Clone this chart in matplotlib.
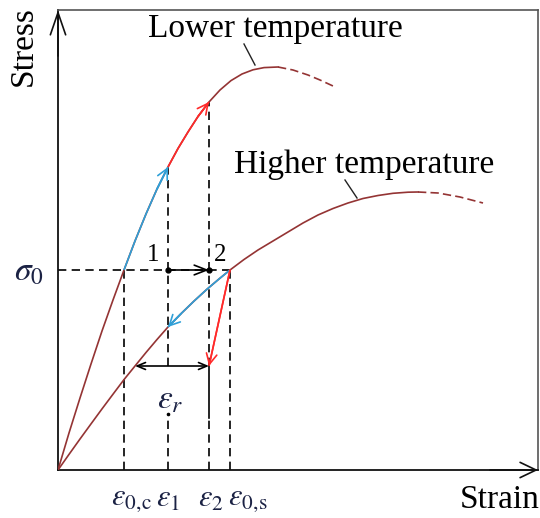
import matplotlib
matplotlib.use("Agg")
import matplotlib.pyplot as plt

plt.rcParams["font.family"] = ["Liberation Serif", "DejaVu Serif"]
plt.rcParams["mathtext.fontset"] = "stix"

# Stress-strain curve at the lower temperature (solid part, then dashed tail)
lower_x = [0.0, 0.11, 0.22, 0.33, 0.44, 0.55, 0.66, 0.77, 0.88, 0.99, 1.10,
           1.20, 1.30, 1.40, 1.51, 1.62, 1.73, 1.84, 1.95, 2.06, 2.20]
lower_y = [0.0, 0.37, 0.72, 1.06, 1.39, 1.70, 2.00, 2.29, 2.56, 2.81, 3.03,
           3.215, 3.38, 3.535, 3.68, 3.80, 3.894, 3.96, 4.002, 4.024, 4.03]
lower_tail_x = [2.20, 2.35, 2.50, 2.62, 2.75]
lower_tail_y = [4.03, 4.00, 3.95, 3.90, 3.84]

# Stress-strain curve at the higher temperature
higher_x = [0.0, 0.11, 0.22, 0.33, 0.44, 0.55, 0.66, 0.77, 0.88, 0.99, 1.10,
            1.23, 1.36, 1.49, 1.61, 1.72, 1.86, 2.00, 2.15, 2.30, 2.45, 2.60,
            2.75, 2.90, 3.05, 3.20, 3.35, 3.50, 3.60]
higher_y = [0.0, 0.156, 0.31, 0.461, 0.611, 0.758, 0.904, 1.04, 1.175, 1.305,
            1.43, 1.563, 1.689, 1.808, 1.91, 2.00, 2.105, 2.20, 2.29, 2.38,
            2.47, 2.55, 2.615, 2.67, 2.715, 2.745, 2.767, 2.778, 2.78]
higher_tail_x = [3.60, 3.80, 4.02, 4.25]
higher_tail_y = [2.78, 2.77, 2.73, 2.67]

# Characteristic strains and the reference stress
sigma_0 = 2.00
eps_0c, eps_1, eps_2, eps_0s = 0.66, 1.10, 1.51, 1.72
eps_r_level = 1.04          # stress at which the recovered strain is measured
eps_r_start = 0.77          # higher-temperature curve at that stress

strain_labels = [r"$\varepsilon_{0,\!\mathrm{c}}$", r"$\varepsilon_1$",
                 r"$\varepsilon_2$", r"$\varepsilon_{0,\!\mathrm{s}}$"]
strain_label_left = [0.53, 0.975, 1.40, 1.70]

BROWN = "#943434"
RED = "#ff2a2a"
BLUE = "#2fa0d8"
MATH = "#1b2244"

fig = plt.figure(figsize=(5.4, 5.18), dpi=100)
ax = fig.add_axes([58 / 540, 48 / 518, 480 / 540, 460 / 518])
ax.set_xlim(0, 4.8)
ax.set_ylim(0, 4.6)
ax.set_xticks([])
ax.set_yticks([])
for side in ("left", "bottom"):
    ax.spines[side].set_linewidth(1.3)
    ax.spines[side].set_color("#111111")
for side in ("top", "right"):
    ax.spines[side].set_linewidth(1.2)
    ax.spines[side].set_color("#555555")

# Axis arrowheads
ax.annotate("", xy=(0, 1), xytext=(0, 0.9), xycoords="axes fraction",
            arrowprops=dict(arrowstyle="->,head_length=1.6,head_width=0.55",
                            lw=1.2, color="#111111", shrinkA=0, shrinkB=0),
            annotation_clip=False)
ax.annotate("", xy=(1, 0), xytext=(0.9, 0), xycoords="axes fraction",
            arrowprops=dict(arrowstyle="->,head_length=1.15,head_width=0.55",
                            lw=1.2, color="#111111", shrinkA=0, shrinkB=0),
            annotation_clip=False)

dash = (0, (5, 3.2))
curve_dash = (0, (5, 2.5))
LW = 1.2
head = "->,head_length=0.75,head_width=0.38"


def arrow_on(xs, ys, color):
    """Draw a polyline and finish it with an open arrowhead."""
    ax.plot(xs, ys, color=color, lw=LW, solid_capstyle="butt",
            solid_joinstyle="round", zorder=4)
    ax.annotate("", xy=(xs[-1], ys[-1]), xytext=(xs[-2], ys[-2]),
                arrowprops=dict(arrowstyle=head, color=color, lw=LW,
                                shrinkA=0, shrinkB=0), zorder=5)


# Guide lines
ax.plot([0, eps_0s], [sigma_0, sigma_0], color="k", lw=LW, ls=dash, zorder=2)
ax.plot([eps_0c, eps_0c], [0, sigma_0], color="k", lw=LW, ls=dash, zorder=2)
ax.plot([eps_0s, eps_0s], [0, sigma_0], color="k", lw=LW, ls=dash, zorder=2)
ax.plot([eps_1, eps_1], [eps_r_level, lower_y[lower_x.index(eps_1)]],
        color="k", lw=LW, ls=dash, zorder=2)
ax.plot([eps_1, eps_1], [0, 0.50], color="k", lw=LW, ls=dash, zorder=2)
ax.plot([eps_1], [0.56], marker="o", ms=1.6, color="k", zorder=2)
ax.plot([eps_2, eps_2], [eps_r_level, lower_y[lower_x.index(eps_2)]],
        color="k", lw=LW, ls=dash, zorder=2)
ax.plot([eps_2, eps_2], [0.52, eps_r_level], color="k", lw=LW, zorder=2)
ax.plot([eps_2, eps_2], [0, 0.52], color="k", lw=LW, ls=dash, zorder=2)

# Full curves
ax.plot(lower_x, lower_y, color=BROWN, lw=LW, solid_joinstyle="round", zorder=3)
ax.plot(lower_tail_x, lower_tail_y, color=BROWN, lw=LW, ls=curve_dash, zorder=3)
ax.plot(higher_x, higher_y, color=BROWN, lw=LW, solid_joinstyle="round", zorder=3)
ax.plot(higher_tail_x, higher_tail_y, color=BROWN, lw=LW, ls=curve_dash, zorder=3)

# Loading path on the lower-temperature curve
i0, i1, i2 = lower_x.index(eps_0c), lower_x.index(eps_1), lower_x.index(eps_2)
arrow_on(lower_x[i0:i1 + 1], lower_y[i0:i1 + 1], BLUE)
arrow_on(lower_x[i1:i2 + 1], lower_y[i1:i2 + 1], RED)

# Unloading paths from point 2
j1, js = higher_x.index(eps_1), higher_x.index(eps_0s)
arrow_on(higher_x[j1:js + 1][::-1], higher_y[j1:js + 1][::-1], BLUE)
arrow_on([eps_0s, eps_2], [sigma_0, eps_r_level], RED)

# Transfer 1 -> 2 and recovered strain
ax.annotate("", xy=(eps_2, sigma_0), xytext=(eps_1, sigma_0),
            arrowprops=dict(arrowstyle="->,head_length=0.9,head_width=0.35",
                            color="k", lw=LW, shrinkA=0, shrinkB=0), zorder=5)
ax.plot([eps_1, eps_2], [sigma_0, sigma_0], "o", ms=3.5, color="k", zorder=6)
ax.annotate("", xy=(eps_r_start, eps_r_level), xytext=(eps_2, eps_r_level),
            arrowprops=dict(arrowstyle="<->,head_length=0.6,head_width=0.25",
                            color="k", lw=LW, shrinkA=0, shrinkB=0), zorder=5)

ax.text(0.95, 2.09, "1", fontsize=18, ha="center", va="baseline")
ax.text(1.62, 2.09, "2", fontsize=18, ha="center", va="baseline")

# Curve names with leader lines
ax.text(2.17, 4.33, "Lower temperature", fontsize=24, ha="center", va="baseline")
ax.plot([1.86, 1.97], [4.26, 4.05], color="#222222", lw=1.0)
ax.text(3.06, 2.97, "Higher temperature", fontsize=24, ha="center", va="baseline")
ax.plot([2.87, 2.99], [2.90, 2.72], color="#222222", lw=1.0)

# Symbols
ax.text(-0.29, 1.98, r"$\sigma_0$", fontsize=24, color=MATH,
        ha="center", va="center", clip_on=False)
for lab, x in zip(strain_labels, strain_label_left):
    ax.text(x, -0.29, lab, fontsize=22, color=MATH, ha="left", va="center",
            clip_on=False)
ax.text(1.12, 0.70, r"$\varepsilon_r$", fontsize=24, color=MATH,
        ha="center", va="center")

fig.text(23 / 540, 1 - 46 / 518, "Stress", fontsize=24, rotation=90,
         ha="center", va="center")
fig.text(500 / 540, 1 - 500 / 518, "Strain", fontsize=24,
         ha="center", va="center")

fig.savefig("out.png", dpi=100)
